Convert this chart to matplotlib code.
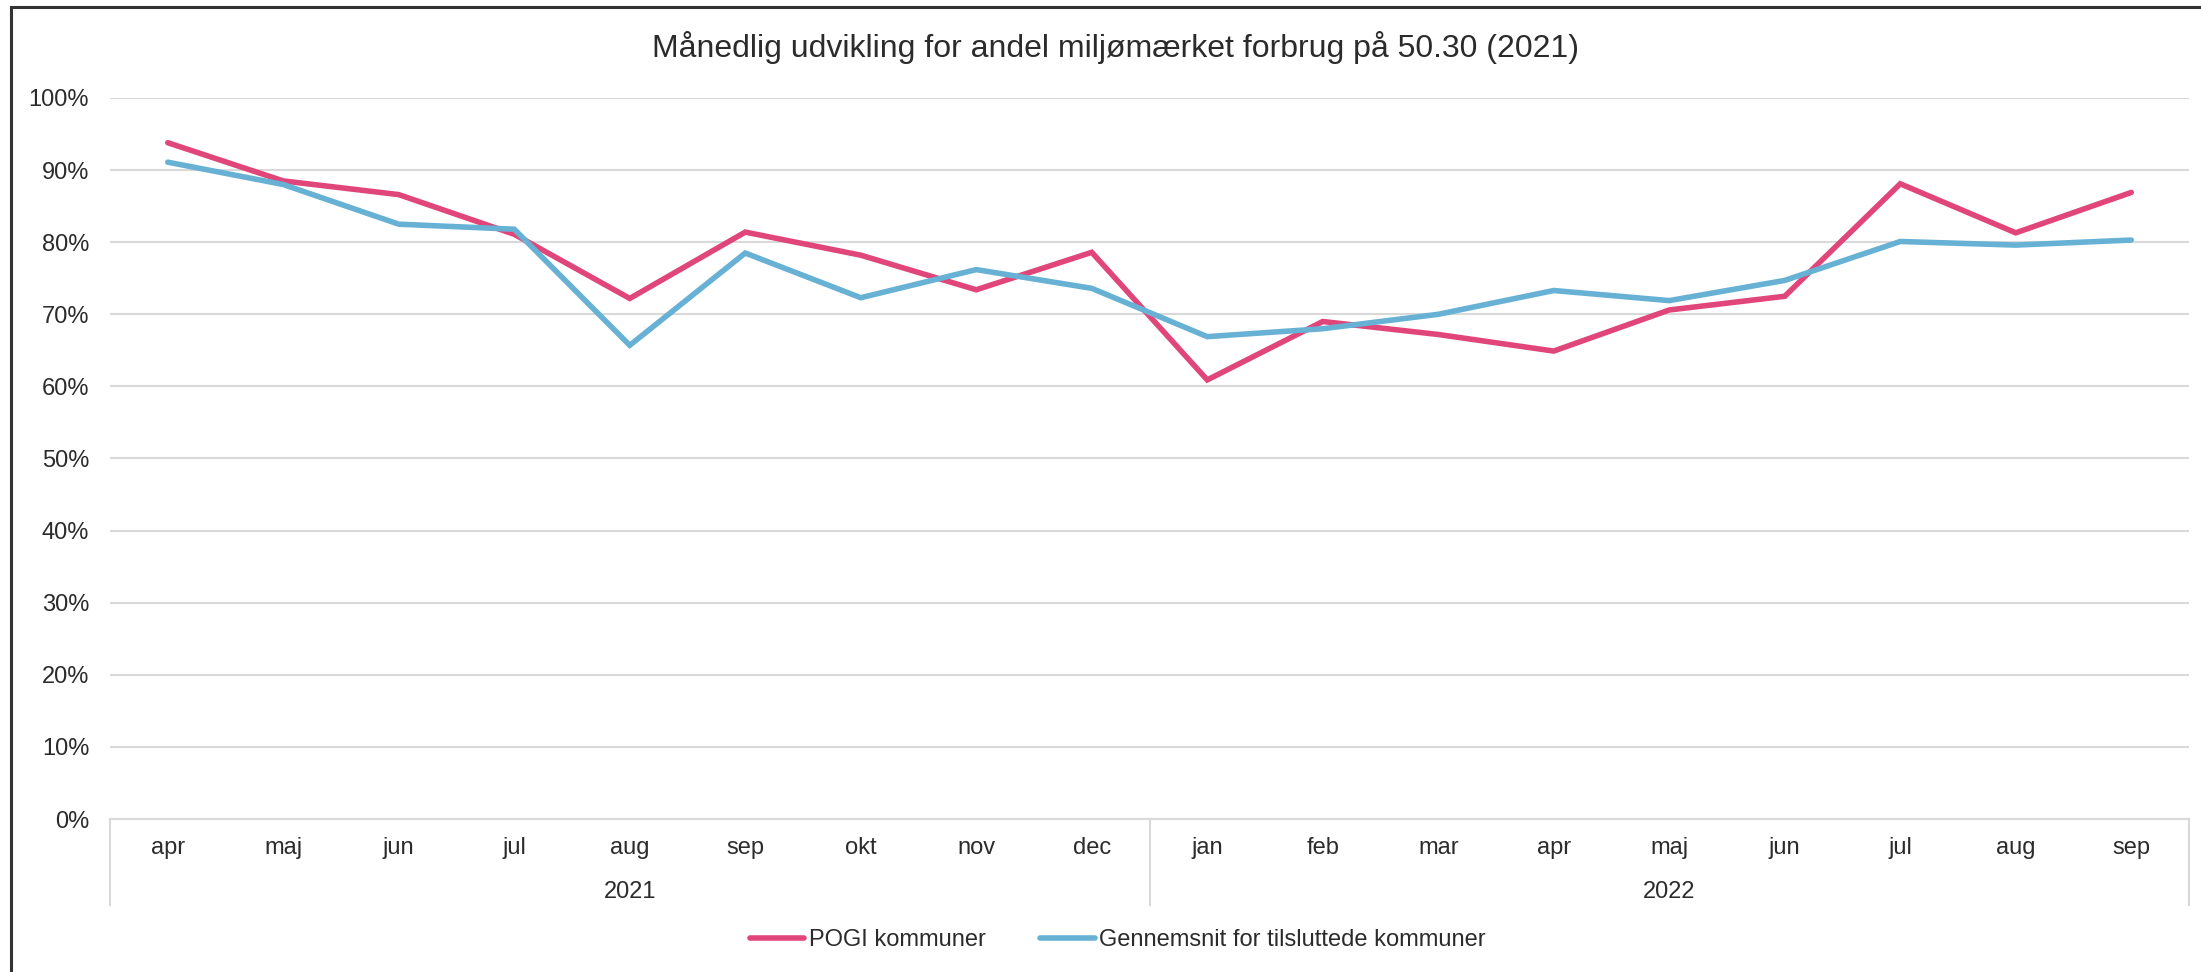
import matplotlib
matplotlib.use("Agg")
import matplotlib.pyplot as plt
from matplotlib.lines import Line2D
from matplotlib.ticker import FuncFormatter, MultipleLocator
import numpy as np

plt.rcParams['font.family'] = ['Liberation Sans', 'DejaVu Sans']

months = ["apr", "maj", "jun", "jul", "aug", "sep", "okt", "nov", "dec",
          "jan", "feb", "mar", "apr", "maj", "jun", "jul", "aug", "sep"]
years = ["2021", "2022"]
year_counts = [9, 9]

pogi = [93.8, 88.5, 86.6, 81.1, 72.2, 81.4, 78.2, 73.4, 78.6,
        60.9, 69.0, 67.2, 64.9, 70.6, 72.5, 88.1, 81.3, 86.9]
avg = [91.1, 88.0, 82.5, 81.8, 65.7, 78.5, 72.3, 76.2, 73.6,
       66.9, 68.0, 70.0, 73.3, 71.9, 74.7, 80.1, 79.6, 80.3]

series_names = ["POGI kommuner", "Gennemsnit for tilsluttede kommuner"]
colors = ["#E0467A", "#67B1D5"]
title = "Månedlig udvikling for andel miljømærket forbrug på 50.30 (2021)"

W, H = 2201, 972
fig = plt.figure(figsize=(W / 100, H / 100), dpi=100)
ax = fig.add_axes([110 / W, 1 - 819 / H, (2189 - 110) / W, (819 - 98) / H])

text_col = "#2B2B2B"
grid_col = "#D9D9D9"
fs = 17

x = np.arange(len(months))
vals = [np.array(pogi) / 100, np.array(avg) / 100]
handles = []
for v, c, n in zip(vals, colors, series_names):
    h, = ax.plot(x, v, color=c, lw=4.0, solid_capstyle='round',
                 solid_joinstyle='miter', label=n, zorder=3)
    handles.append(h)

ax.set_xlim(-0.5, len(months) - 0.5)
ax.set_ylim(0, 1.0)
ax.yaxis.set_major_locator(MultipleLocator(0.1))
ax.yaxis.set_major_formatter(FuncFormatter(lambda v, p: f"{int(round(v * 100))}%"))
ax.grid(axis='y', color=grid_col, lw=1.5, zorder=0)
for s in ax.spines.values():
    s.set_visible(False)
ax.tick_params(axis='y', length=0, pad=15, labelsize=fs, labelcolor=text_col)
ax.set_xticks([])

# category axis lines
xt = ax.get_xaxis_transform()
ax.plot([-0.5, len(months) - 0.5], [0, 0], color=grid_col, lw=1.5,
        transform=xt, clip_on=False, zorder=1)
bounds = np.concatenate([[0], np.cumsum(year_counts)]) - 0.5
ybot = -(905 - 819) / (819 - 98)
for b in bounds:
    ax.plot([b, b], [0, ybot], color=grid_col, lw=1.5, transform=xt,
            clip_on=False, zorder=1)

ym = -(848 - 819) / (819 - 98)
for xi, m in zip(x, months):
    ax.text(xi, ym, m, transform=xt, ha='center', va='center',
            fontsize=fs, color=text_col)
yy = -(892 - 819) / (819 - 98)
for i, yr in enumerate(years):
    c = (bounds[i] + bounds[i + 1]) / 2
    ax.text(c, yy, yr, transform=xt, ha='center', va='center',
            fontsize=fs, color=text_col)

fig.text(1116 / W, 1 - 48 / H, title, ha='center', va='center',
         fontsize=23, color=text_col)

fig.legend(handles=handles, loc='center', bbox_to_anchor=(1118 / W, 1 - 940 / H),
           ncol=2, frameon=False, fontsize=fs, handlelength=2.3,
           handletextpad=0.2, columnspacing=2.3, labelcolor=text_col)

# outer frame (left and top)
fig.add_artist(Line2D([11 / W, 11 / W], [0, 1 - 7.5 / H], color="#333333", lw=2.2,
                      transform=fig.transFigure))
fig.add_artist(Line2D([11 / W, 1], [1 - 7.5 / H, 1 - 7.5 / H], color="#333333", lw=2.2,
                      transform=fig.transFigure))

fig.savefig("out.png", dpi=100)
